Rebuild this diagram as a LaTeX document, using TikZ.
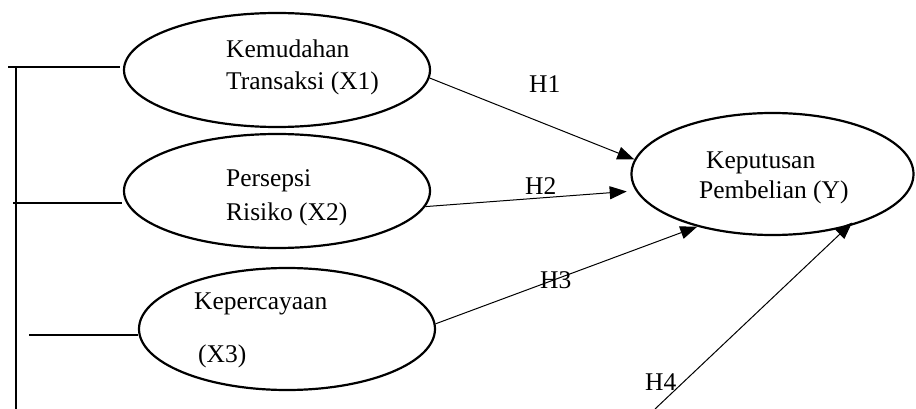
\documentclass[tikz,border=0pt]{standalone}
\usepackage{fontspec}
\setmainfont{Liberation Serif}
\usetikzlibrary{shapes.geometric,arrows.meta}
\begin{document}
\begin{tikzpicture}[x=1pt,y=-1pt,
  latent/.style={draw,ellipse,line width=2.2pt,inner sep=0pt},
  label/.style={anchor=base west,inner sep=0pt,font=\fontsize{25.5}{30}\selectfont},
  path/.style={line width=1pt,-{Triangle[length=17pt,width=13pt]}},
  frame/.style={line width=1.8pt}]
\useasboundingbox (0,0) rectangle (916,409);

% constructs
\node[latent,minimum width=306pt,minimum height=114pt] (x1) at (277,70) {};
\node[latent,minimum width=306pt,minimum height=114pt] (x2) at (277,191) {};
\node[latent,minimum width=296pt,minimum height=122pt] (x3) at (287,329) {};
\node[latent,minimum width=282pt,minimum height=122pt] (y) at (772.5,174) {};

% construct names
\node[label] (t1a) at (226,58) {Kemudahan};
\node[label] (t1b) at (226,90) {Transaksi (X1)};
\node[label] (t2a) at (226,186) {Persepsi};
\node[label] (t2b) at (226,220) {Risiko (X2)};
\node[label] (t3a) at (194,309) {Kepercayaan};
\node[label] (t3b) at (198,362) {(X3)};
\node[label] (tya) at (706,168) {Keputusan};
\node[label] (tyb) at (699,198) {Pembelian (Y)};

% hypothesis labels
\node[label] (h1) at (529,93) {H1};
\node[label] (h2) at (525,194) {H2};
\node[label] (h3) at (540,288) {H3};
\node[label] (h4) at (645,390) {H4};

% hypothesised paths
\draw[path] (x1.-3) -- (y.174);
\draw[path,shorten >=9pt] (x2.-6) -- (y.187);
\draw[path] (x3.2) -- (y.215);
\coordinate (h4start) at (655,409);
\draw[path,shorten >=-6pt] (h4start) -- (y.-35);

% bracket on the left
\coordinate (vtop) at (16,67);
\coordinate (vbot) at (16,409);
\coordinate (l1) at (8,67);
\coordinate (l2) at (13,203);
\coordinate (l3) at (29,335);
\draw[frame] (vtop) -- (vbot);
\draw[line width=1.5pt] (l1) -- (120,67);
\draw[line width=2.2pt] (l2) -- (122,203);
\draw[line width=1.2pt] (l3) -- (x3.west |- l3);
\end{tikzpicture}
\end{document}
